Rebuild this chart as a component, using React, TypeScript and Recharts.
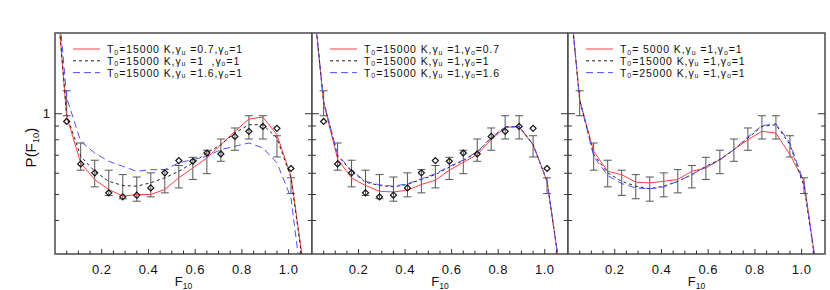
import {
  ComposedChart,
  Line,
  Scatter,
  XAxis,
  YAxis,
  ErrorBar,
  ReferenceArea,
  Legend,
} from "recharts";

// model grid (first and last point fall outside the frame and get clipped)
const fModel = [-0.01, 0.05, 0.11, 0.17, 0.23, 0.29, 0.35, 0.41, 0.47, 0.53, 0.59, 0.65, 0.71, 0.77, 0.83, 0.89, 0.95, 1.01, 1.07];
const fObs = [0.05, 0.11, 0.17, 0.23, 0.29, 0.35, 0.41, 0.47, 0.53, 0.59, 0.65, 0.71, 0.77, 0.83, 0.89, 0.95, 1.01];

const observed = [0.936, 0.65, 0.602, 0.507, 0.49, 0.497, 0.529, 0.602, 0.669, 0.665, 0.714, 0.708, 0.823, 0.86, 0.897, 0.882, 0.625];
const errTop = [1.218, 0.778, 0.671, 0.616, 0.593, 0.581, 0.602, 0.619, 0.641, 0.688, 0.731, 0.805, 0.885, 0.983, 0.983, 0.828, 0.577];
const errBottom = [0.983, 0.616, 0.534, 0.496, 0.482, 0.472, 0.49, 0.507, 0.529, 0.569, 0.598, 0.665, 0.731, 0.805, 0.805, 0.69, 0.504];

// panel 1: varying gamma_u
const p1Red = [4.3, 0.977, 0.656, 0.568, 0.522, 0.493, 0.5, 0.5, 0.522, 0.577, 0.628, 0.684, 0.767, 0.859, 0.956, 0.972, 0.835, 0.585, 0.248];
const p1Black = [4.2, 0.991, 0.694, 0.61, 0.56, 0.54, 0.537, 0.553, 0.577, 0.61, 0.656, 0.714, 0.767, 0.848, 0.91, 0.91, 0.812, 0.577, 0.24];
const p1Blue = [4.6, 1.147, 0.789, 0.714, 0.665, 0.637, 0.61, 0.619, 0.619, 0.656, 0.675, 0.694, 0.735, 0.756, 0.778, 0.746, 0.656, 0.486, 0.187];

// panel 2: varying gamma_o
const p2Red = [3.6, 1.096, 0.678, 0.577, 0.54, 0.514, 0.511, 0.519, 0.545, 0.565, 0.616, 0.659, 0.704, 0.8, 0.892, 0.892, 0.767, 0.56, 0.244];
const p2Black = [3.6, 1.111, 0.698, 0.61, 0.556, 0.54, 0.534, 0.545, 0.569, 0.593, 0.632, 0.669, 0.718, 0.812, 0.892, 0.897, 0.767, 0.56, 0.244];
const p2Blue = [3.6, 1.111, 0.704, 0.614, 0.56, 0.543, 0.537, 0.548, 0.572, 0.598, 0.636, 0.672, 0.722, 0.815, 0.892, 0.897, 0.767, 0.56, 0.244];

// panel 3: varying T0
const p3Red = [4.0, 1.127, 0.724, 0.61, 0.593, 0.556, 0.552, 0.56, 0.569, 0.61, 0.628, 0.675, 0.735, 0.8, 0.86, 0.847, 0.704, 0.56, 0.24];
const p3Black = [4.0, 1.127, 0.704, 0.602, 0.56, 0.537, 0.525, 0.537, 0.56, 0.593, 0.637, 0.675, 0.735, 0.812, 0.897, 0.91, 0.767, 0.537, 0.24];
const p3Blue = [4.0, 1.127, 0.694, 0.588, 0.549, 0.529, 0.525, 0.534, 0.56, 0.593, 0.633, 0.671, 0.735, 0.819, 0.902, 0.918, 0.778, 0.552, 0.24];

const p1Labels = ["T_0=15000 K,γ_u =0.7,γ_o=1", "T_0=15000 K,γ_u =1  ,γ_o=1", "T_0=15000 K,γ_u =1.6,γ_o=1"];
const p2Labels = ["T_0=15000 K,γ_u =1,γ_o=0.7", "T_0=15000 K,γ_u =1,γ_o=1", "T_0=15000 K,γ_u =1,γ_o=1.6"];
const p3Labels = ["T_0= 5000 K,γ_u =1,γ_o=1", "T_0=15000 K,γ_u =1,γ_o=1", "T_0=25000 K,γ_u =1,γ_o=1"];

const xTicks = [0.05, 0.1, 0.15, 0.2, 0.25, 0.3, 0.35, 0.4, 0.45, 0.5, 0.55, 0.6, 0.65, 0.7, 0.75, 0.8, 0.85, 0.9, 0.95, 1.0, 1.05];
const xLabels = [0.2, 0.4, 0.6, 0.8, 1.0];
const yTicks = [0.4, 0.5, 0.6, 0.7, 0.8, 0.9, 1];

const seriesColors = ["#ff4040", "#222222", "#5050ff"];
const seriesDashes = [undefined, "3 3", "7 4"];
const frameColor = "#4a4a4a";
const tickColor = "#333";
const FONT = "'Liberation Sans', Arial, Helvetica, sans-serif";

const TOP = 33;
const XAXIS_H = 36;

// each legend row is one <text> with <tspan> subscripts
function legendText(s: string, x: number, y: number) {
  const parts = s.split(/_(.)/);
  return (
    <text x={x} y={y} fontSize={10.5} letterSpacing={0.9} fill="#111" style={{ whiteSpace: "pre" }}>
      {parts.map((p, i) =>
        i % 2 === 1 ? (
          <tspan key={i} fontSize={7} dy={1.5}>
            {p}
          </tspan>
        ) : (
          <tspan key={i} dy={i === 0 ? 0 : -1.5}>
            {p}
          </tspan>
        )
      )}
    </text>
  );
}

const XTick = (props: any) => {
  const { x, y, payload } = props;
  const lab = xLabels.find((l) => Math.abs(l - payload.value) < 1e-6);
  return (
    <g>
      <line x1={x} x2={x} y1={y} y2={y - (lab !== undefined ? 5 : 3.5)} stroke={tickColor} />
      {lab !== undefined && (
        <text x={x} y={y + 19.5} textAnchor="middle" fontSize={13} letterSpacing={0.5} fill="#111">
          {lab.toFixed(1)}
        </text>
      )}
    </g>
  );
};

const makeYTick = (plotW: number, labelled: boolean) => (props: any) => {
  const { x, y, payload } = props;
  const major = payload.value === 1;
  const len = major ? 7 : 4;
  return (
    <g>
      <line x1={x} x2={x + len} y1={y} y2={y} stroke={tickColor} />
      <line x1={x + plotW} x2={x + plotW - len} y1={y} y2={y} stroke={tickColor} />
      {labelled && major && (
        <text x={x - 5} y={y + 4.5} textAnchor="end" fontSize={13} fill="#111">
          1
        </text>
      )}
    </g>
  );
};

const XLabel = (props: any) => {
  const { x, y, width } = props.viewBox;
  return (
    <text x={x + width / 2} y={y + 32} textAnchor="middle" fontSize={13} fill="#111">
      F<tspan fontSize={8.5} dy={3}>10</tspan>
    </text>
  );
};

const YLabel = (props: any) => {
  const { y, height } = props.viewBox;
  const cx = 36;
  const cy = y + height / 2 + 4;
  return (
    <text x={cx} y={cy} transform={`rotate(-90 ${cx} ${cy})`} textAnchor="middle" fontSize={15} fill="#111">
      P(F<tspan fontSize={9.5} dy={3}>10</tspan>
      <tspan dy={-3}>)</tspan>
    </text>
  );
};

const Diamond = (props: any) => {
  const { cx, cy } = props;
  if (cx == null || cy == null) return null;
  const r = 3;
  return (
    <path
      d={`M${cx},${cy - r}L${cx + r},${cy}L${cx},${cy + r}L${cx - r},${cy}Z`}
      fill="none"
      stroke="#111"
      strokeWidth={1.2}
    />
  );
};

const ROW = 11.8;
const makeLegend = (labels: string[]) => () => (
  <svg width={200} height={ROW * 3 + 10} style={{ display: "block", fontFamily: FONT, overflow: "visible" }}>
    {labels.map((lab, i) => (
      <g key={i}>
        <line
          x1={0}
          x2={27}
          y1={7 + i * ROW}
          y2={7 + i * ROW}
          stroke={seriesColors[i]}
          strokeDasharray={seriesDashes[i]}
        />
        {legendText(lab, 34, 11 + i * ROW)}
      </g>
    ))}
  </svg>
);

interface PanelProps {
  left: number;
  width: number;
  yAxisWidth: number;
  marginRight: number;
  models: number[][];
  labels: string[];
  showObs: boolean;
  first: boolean;
}

function Panel({ left, width, yAxisWidth, marginRight, models, labels, showObs, first }: PanelProps) {
  const plotW = width - yAxisWidth - marginRight;
  const modelData = fModel.map((f, i) => ({ f, a: models[0][i], b: models[1][i], c: models[2][i] }));
  const obsData = fObs.map((f, i) => {
    const mid = (errTop[i] + errBottom[i]) / 2;
    return { f, obs: observed[i], mid, err: [mid - errBottom[i], errTop[i] - mid] };
  });
  const keys = ["a", "b", "c"];

  return (
    <div style={{ position: "absolute", left, top: 0 }}>
      <ComposedChart width={width} height={290} margin={{ top: TOP, right: marginRight, bottom: 0, left: 0 }}>
        <XAxis
          dataKey="f"
          type="number"
          domain={[0, 1.1]}
          allowDataOverflow
          ticks={xTicks}
          interval={0}
          tickSize={0}
          tickMargin={0}
          tick={XTick}
          axisLine={false}
          height={XAXIS_H}
          label={<XLabel />}
        />
        <YAxis
          type="number"
          scale="log"
          domain={[0.3, 2]}
          allowDataOverflow
          ticks={yTicks}
          interval={0}
          tickSize={0}
          tickMargin={0}
          tick={makeYTick(plotW, first)}
          axisLine={false}
          width={yAxisWidth}
          label={first ? <YLabel /> : undefined}
        />
        <Line
          data={obsData}
          dataKey="mid"
          stroke="none"
          dot={false}
          legendType="none"
          isAnimationActive={false}
        >
          <ErrorBar dataKey="err" direction="y" width={4} stroke="#555" strokeWidth={1} isAnimationActive={false} />
        </Line>
        {keys.map((k, i) => (
          <Line
            key={k}
            data={modelData}
            dataKey={k}
            stroke={seriesColors[i]}
            strokeDasharray={seriesDashes[i]}
            strokeWidth={1}
            dot={false}
            isAnimationActive={false}
          />
        ))}
        {showObs && (
          <Scatter data={obsData} dataKey="obs" shape={<Diamond />} isAnimationActive={false} />
        )}
        <ReferenceArea x1={0} x2={1.1} y1={0.3} y2={2} fill="none" stroke={frameColor} strokeWidth={1.5} />
        <Legend
          layout="horizontal"
          verticalAlign="middle"
          align="center"
          content={makeLegend(labels)}
          wrapperStyle={{ top: 42, left: yAxisWidth + 18, width: "auto", height: "auto" }}
        />
      </ComposedChart>
    </div>
  );
}

export default function App() {
  return (
    <div
      style={{
        position: "absolute",
        left: 0,
        top: 0,
        width: 830,
        height: 290,
        background: "#fff",
        fontFamily: FONT,
        overflow: "hidden",
      }}
    >
      <Panel left={0} width={312} yAxisWidth={55} marginRight={0} models={[p1Red, p1Black, p1Blue]} labels={p1Labels} showObs first />
      <Panel left={302} width={266} yAxisWidth={10} marginRight={0} models={[p2Red, p2Black, p2Blue]} labels={p2Labels} showObs first={false} />
      <Panel left={558} width={272} yAxisWidth={10} marginRight={5} models={[p3Red, p3Black, p3Blue]} labels={p3Labels} showObs={false} first={false} />
    </div>
  );
}
